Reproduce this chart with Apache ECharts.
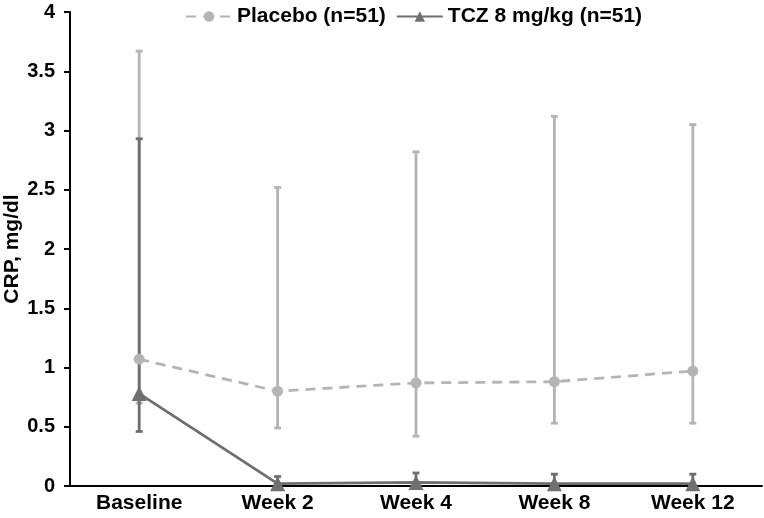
<!DOCTYPE html>
<html><head><meta charset="utf-8">
<script src="https://cdn.jsdelivr.net/npm/echarts@6/dist/echarts.min.js"></script>
<style>html,body{margin:0;padding:0;background:#fff}#c{width:764px;height:518px}</style>
</head><body><div id="c"></div>
<script>
var categories = ['Baseline', 'Week 2', 'Week 4', 'Week 8', 'Week 12'];
var placeboMean = [1.07, 0.80, 0.87, 0.88, 0.97];
var placeboLow  = [0.70, 0.49, 0.42, 0.53, 0.53];
var placeboHigh = [3.67, 2.52, 2.82, 3.12, 3.05];
var tczMean = [0.78, 0.02, 0.03, 0.02, 0.02];
var tczLow  = [0.46, 0.00, 0.00, 0.00, 0.00];
var tczHigh = [2.93, 0.08, 0.11, 0.10, 0.10];
var yTicks = [0, 0.5, 1, 1.5, 2, 2.5, 3, 3.5, 4];

var cPlacebo = '#b4b4b4';
var cTcz = '#6f6f6f';
var font = 'Liberation Sans, Arial, sans-serif';

function errData(lo, hi) {
  return categories.map(function (c, i) { return [i, lo[i], hi[i]]; });
}
function errRender(color) {
  return function (params, api) {
    var x = api.value(0);
    var p1 = api.coord([x, api.value(1)]);
    var p2 = api.coord([x, api.value(2)]);
    var hw = 3.5;
    var st = { stroke: color, lineWidth: 2.8 };
    return {
      type: 'group',
      children: [
        { type: 'line', shape: { x1: p1[0], y1: p1[1], x2: p2[0], y2: p2[1] }, style: st },
        { type: 'line', shape: { x1: p1[0] - hw, y1: p1[1], x2: p1[0] + hw, y2: p1[1] }, style: st },
        { type: 'line', shape: { x1: p2[0] - hw, y1: p2[1], x2: p2[0] + hw, y2: p2[1] }, style: st }
      ]
    };
  };
}

var chart = echarts.init(document.getElementById('c'));
chart.setOption({
  animation: false,
  textStyle: { fontFamily: font },
  legend: {
    data: ['Placebo (n=51)', 'TCZ 8 mg/kg (n=51)'],
    top: 1, left: 180,
    itemWidth: 46, itemHeight: 13, itemGap: 10,
    textStyle: { fontFamily: font, fontWeight: 'bold', fontSize: 21, color: '#000' }
  },
  grid: { left: 70, right: 2, top: 12, bottom: 32, containLabel: false, outerBoundsMode: 'none' },
  xAxis: {
    type: 'category', data: categories, boundaryGap: true,
    axisLine: { lineStyle: { color: '#000', width: 2 } },
    axisTick: { show: false },
    axisLabel: { color: '#000', fontWeight: 'bold', fontSize: 21, fontFamily: font, margin: 7 }
  },
  yAxis: {
    type: 'value', min: 0, max: 4, interval: 0.5,
    name: 'CRP, mg/dl', nameLocation: 'middle', nameGap: 47, nameMoveOverlap: false,
    nameTextStyle: { color: '#000', fontWeight: 'bold', fontSize: 21, fontFamily: font },
    axisLine: { show: true, lineStyle: { color: '#000', width: 2 } },
    axisTick: { show: true, length: 6, lineStyle: { color: '#000', width: 2 } },
    splitLine: { show: false },
    axisLabel: {
      color: '#000', fontWeight: 'bold', fontSize: 20, fontFamily: font, margin: 15,
      formatter: function (v) { return yTicks.indexOf(v) >= 0 ? String(v) : ''; }
    }
  },
  series: [
    { name: 'pe', type: 'custom', data: errData(placeboLow, placeboHigh), renderItem: errRender(cPlacebo), encode: { x: 0, y: [1, 2] } },
    { name: 'Placebo (n=51)', type: 'line', data: placeboMean, symbol: 'circle', symbolSize: 11,
      itemStyle: { color: cPlacebo }, lineStyle: { color: cPlacebo, width: 2.8, type: [10, 7] } },
    { name: 'te', type: 'custom', data: errData(tczLow, tczHigh), renderItem: errRender(cTcz), encode: { x: 0, y: [1, 2] } },
    { name: 'TCZ 8 mg/kg (n=51)', type: 'line', data: tczMean, symbol: 'triangle', symbolSize: 15,
      itemStyle: { color: cTcz }, lineStyle: { color: cTcz, width: 2.8 } }
  ]
});
</script></body></html>
